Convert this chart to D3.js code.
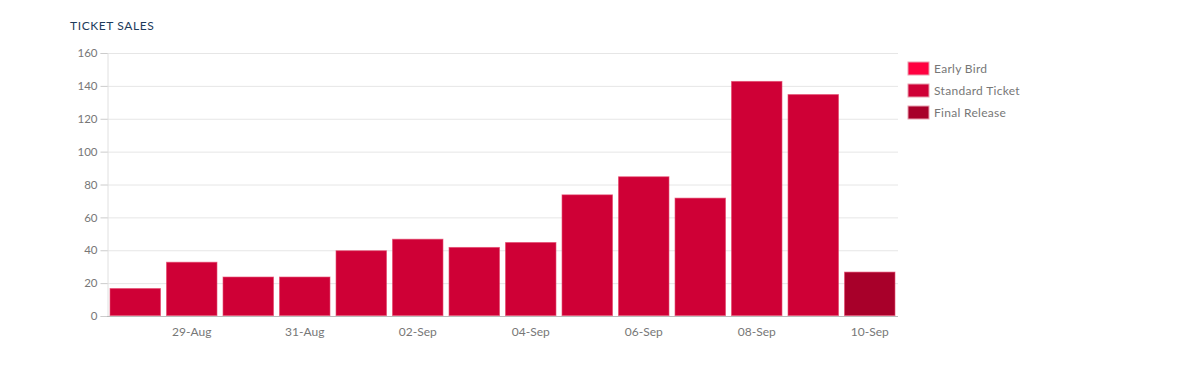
<!DOCTYPE html>
<html><head><meta charset="utf-8">
<script src="https://cdn.jsdelivr.net/npm/d3@7"></script>
<style>
body{margin:0;background:#fff;font-family:Lato,"Open Sans",sans-serif;}
</style></head><body>
<svg id="c" width="1181" height="377"></svg>
<script>
const dates = ["28-Aug","29-Aug","30-Aug","31-Aug","01-Sep","02-Sep","03-Sep","04-Sep","05-Sep","06-Sep","07-Sep","08-Sep","09-Sep","10-Sep"];
const earlyBird = [0,0,0,0,0,0,0,0,0,0,0,0,0,0];
const standardTicket = [17,33,24,24,40,47,42,45,74,85,72,143,135,0];
const finalRelease = [0,0,0,0,0,0,0,0,0,0,0,0,0,27];
const seriesNames = ["Early Bird","Standard Ticket","Final Release"];
const colors = ["#ff0040","#cf0036","#a8002a"];
const yTicks = [0,20,40,60,80,100,120,140,160];

const svg = d3.select("#c");
const m = {l:107, r:898, t:53, b:316};
const x = d3.scaleBand().domain(dates).range([m.l, m.r]).paddingInner(0.09).paddingOuter(0.045);
const y = d3.scaleLinear().domain([0,160]).range([m.b, m.t]);

svg.append("text").attr("x",70).attr("y",30).text("TICKET SALES")
  .attr("font-size",12).attr("letter-spacing",0.6).attr("fill","#1d3b5c");

// gridlines
svg.append("g").selectAll("line").data(yTicks.filter(d=>d>0)).join("line")
  .attr("x1",m.l).attr("x2",m.r).attr("y1",d=>y(d)+0.5).attr("y2",d=>y(d)+0.5)
  .attr("stroke","#e6e6e6");

const yAxis = svg.append("g").attr("transform",`translate(${m.l+0.5},0)`)
  .call(d3.axisLeft(y).tickValues(yTicks).tickSize(7).tickPadding(3));
yAxis.select(".domain").attr("stroke","#e0e0e0");
yAxis.selectAll(".tick line").attr("stroke","#ccc");
yAxis.selectAll("text").attr("fill","#777").attr("font-size",11.5).attr("font-family","Lato,sans-serif");

const stackData = dates.map((d,i)=>({date:d, "Early Bird":earlyBird[i], "Standard Ticket":standardTicket[i], "Final Release":finalRelease[i]}));
const stacked = d3.stack().keys(seriesNames)(stackData);
svg.append("g").selectAll("g").data(stacked).join("g")
  .attr("fill",(d,i)=>colors[i])
  .selectAll("rect").data(d=>d.filter(p=>p[1]-p[0]>0)).join("rect")
  .attr("x",d=>x(d.data.date)+0.5).attr("width",x.bandwidth()-1)
  .attr("y",d=>y(d[1])+0.5).attr("height",d=>y(d[0])-y(d[1])-1)
  .attr("stroke","#e23a62").attr("stroke-width",1).attr("stroke-opacity",0.6);

const xAxis = svg.append("g").attr("transform",`translate(0,${m.b+0.5})`)
  .call(d3.axisBottom(x).tickValues(dates.filter((d,i)=>i%2===1)).tickSize(0).tickPadding(11));
xAxis.select(".domain").attr("stroke","#bbb").attr("d",`M${m.l},0H${m.r}`);
xAxis.selectAll("text").attr("fill","#777").attr("font-size",12).attr("font-family","Lato,sans-serif");

const lg = svg.append("g").selectAll("g").data(seriesNames).join("g")
  .attr("transform",(d,i)=>`translate(908,${62+i*22})`);
lg.append("rect").attr("width",21).attr("height",13).attr("fill",(d,i)=>colors[i])
  .attr("stroke","#e8a0b0").attr("stroke-width",1);
lg.append("text").attr("x",26).attr("y",11).text(d=>d).attr("font-size",12).attr("letter-spacing",0.3).attr("fill","#777");
</script>
</body></html>
